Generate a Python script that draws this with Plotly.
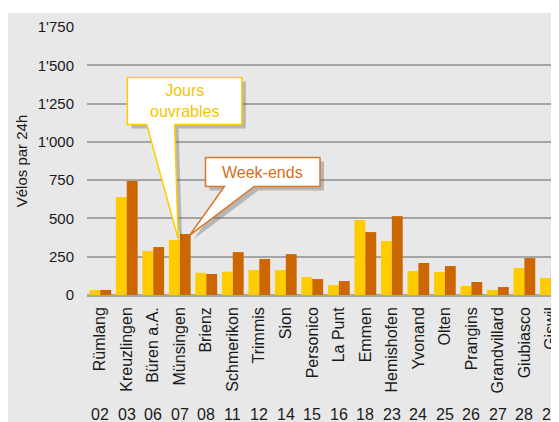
import plotly.graph_objects as go

categories = ["Rümlang", "Kreuzlingen", "Büren a.A.", "Münsingen", "Brienz", "Schmerikon",
              "Trimmis", "Sion", "Personico", "La Punt", "Emmen", "Hemishofen", "Yvonand",
              "Olten", "Prangins", "Grandvillard", "Giubiasco", "Giswil"]
codes = ["02", "03", "06", "07", "08", "11", "12", "14", "15", "16", "18", "23", "24",
         "25", "26", "27", "28", "29"]
jours_ouvrables = [32, 640, 287, 359, 145, 152, 163, 163, 117, 65, 489, 352, 156, 150, 59, 33, 176, 111]
week_ends = [33, 745, 313, 398, 137, 280, 235, 267, 104, 91, 411, 515, 209, 189, 85, 52, 241, 176]
y_ticks = [0, 250, 500, 750, 1000, 1250, 1500, 1750]
y_ticktext = ["0", "250", "500", "750", "1'000", "1'250", "1'500", "1'750"]

YELLOW = "#FFCC00"
ORANGE = "#CC6600"
BG = "#E8E8E8"
GRID = "#A5A5A5"
FONT = "Liberation Sans, Arial, sans-serif"

# the page body adds an 8px margin, so the figure is 8px smaller than the window
OFF = 8
W, H = 559 - OFF, 422 - OFF
L, T = 87 - OFF, 27 - OFF
PW, PH = W - L, 268
XR = [-0.5, 17.23]
YR = [0, 1750]


def dx(px):
    return XR[0] + (px - OFF - L) / PW * (XR[1] - XR[0])


def dy(py):
    return YR[0] + (T + PH - (py - OFF)) / PH * (YR[1] - YR[0])


def px_x(x):
    return OFF + L + (x - XR[0]) / (XR[1] - XR[0]) * PW


def px_y(y):
    return OFF + T + PH - (y - YR[0]) / (YR[1] - YR[0]) * PH


def path(points, ox=0, oy=0):
    s = ""
    for i, (x, y) in enumerate(points):
        s += ("M" if i == 0 else "L") + f"{dx(x + ox):.4f},{dy(y + oy):.4f} "
    return s + "Z"


fig = go.Figure()
fig.add_trace(go.Bar(x=categories, y=jours_ouvrables, marker_color=YELLOW, name="Jours ouvrables",
                     marker_line_width=0))
fig.add_trace(go.Bar(x=categories, y=week_ends, marker_color=ORANGE, name="Week-ends",
                     marker_line_width=0))

shapes = []
# white strip above the gray panel
shapes.append(dict(type="rect", xref="paper", yref="paper",
                   x0=-0.5, x1=1.2, y0=1 + (T - (13 - OFF)) / PH, y1=1 + (T + 2) / PH,
                   fillcolor="white", line_width=0, layer="above"))

# callout tips anchored to the Münsingen bars
i_m = categories.index("Münsingen")
tip_j = (px_x(i_m - 0.06), px_y(jours_ouvrables[i_m]) - 1)
tip_w = (px_x(i_m + 0.38), px_y(week_ends[i_m]) + 1)

box_j = (127.5, 77.5, 242.5, 124.5)
pts_j = [(box_j[0], box_j[1]), (box_j[2], box_j[1]), (box_j[2], box_j[3]), (175, box_j[3]),
         tip_j, (147, box_j[3]), (box_j[0], box_j[3])]
box_w = (206, 157.5, 321, 186.5)
pts_w = [(box_w[0], box_w[1]), (box_w[2], box_w[1]), (box_w[2], box_w[3]), (255, box_w[3]),
         tip_w, (225, box_w[3]), (box_w[0], box_w[3])]

for pts, col in [(pts_j, YELLOW), (pts_w, "#D9782A")]:
    shapes.append(dict(type="path", xref="x", yref="y", path=path(pts, 4, 4),
                       fillcolor="rgba(90,90,90,0.35)", line_width=0, layer="above"))
    shapes.append(dict(type="path", xref="x", yref="y", path=path(pts),
                       fillcolor="white", line=dict(color=col, width=1.5), layer="above"))

annotations = []
annotations.append(dict(x=dx((box_j[0] + box_j[2]) / 2), y=dy((box_j[1] + box_j[3]) / 2),
                        xref="x", yref="y", text="Jours<br>ouvrables", showarrow=False,
                        font=dict(family=FONT, size=16, color="#F5C400"),
                        xanchor="center", yanchor="middle"))
annotations.append(dict(x=dx((box_w[0] + box_w[2]) / 2), y=dy((box_w[1] + box_w[3]) / 2),
                        xref="x", yref="y", text="Week-ends", showarrow=False,
                        font=dict(family=FONT, size=16, color="#D2701E"),
                        xanchor="center", yanchor="middle"))
# codes row
for c, code in zip(categories, codes):
    annotations.append(dict(x=c, y=(T + PH - (414 - OFF)) / PH, xref="x", yref="paper", text=code,
                            showarrow=False, font=dict(family=FONT, size=16, color="#1a1a1a"),
                            xanchor="center", yanchor="middle"))
# y axis title
annotations.append(dict(x=(21 - OFF - L) / PW, y=0.5, xref="paper", yref="paper",
                        text="Vélos par 24h", textangle=-90, showarrow=False,
                        font=dict(family=FONT, size=15, color="#1a1a1a"),
                        xanchor="center", yanchor="middle"))

fig.update_layout(
    width=W, height=H,
    margin=dict(l=L, r=0, t=T, b=H - T - PH, pad=0),
    paper_bgcolor=BG, plot_bgcolor=BG,
    barmode="group", bargap=0.18, bargroupgap=0,
    showlegend=False,
    shapes=shapes, annotations=annotations,
    font=dict(family=FONT, color="#1a1a1a"),
    xaxis=dict(range=XR, tickangle=-90, showgrid=False, showline=False, zeroline=False,
               ticks="", tickfont=dict(size=16, family=FONT, color="#1a1a1a"),
               ticklabelstandoff=8, fixedrange=True),
    yaxis=dict(range=YR, tickvals=y_ticks, ticktext=y_ticktext, showgrid=True,
               gridcolor=GRID, gridwidth=1.5, zeroline=True, zerolinecolor="#A8A8A8",
               zerolinewidth=2.5, showline=False, ticks="",
               tickfont=dict(size=15, family=FONT, color="#1a1a1a"),
               ticklabelstandoff=12, fixedrange=True),
)

fig.write_html("out.html")
